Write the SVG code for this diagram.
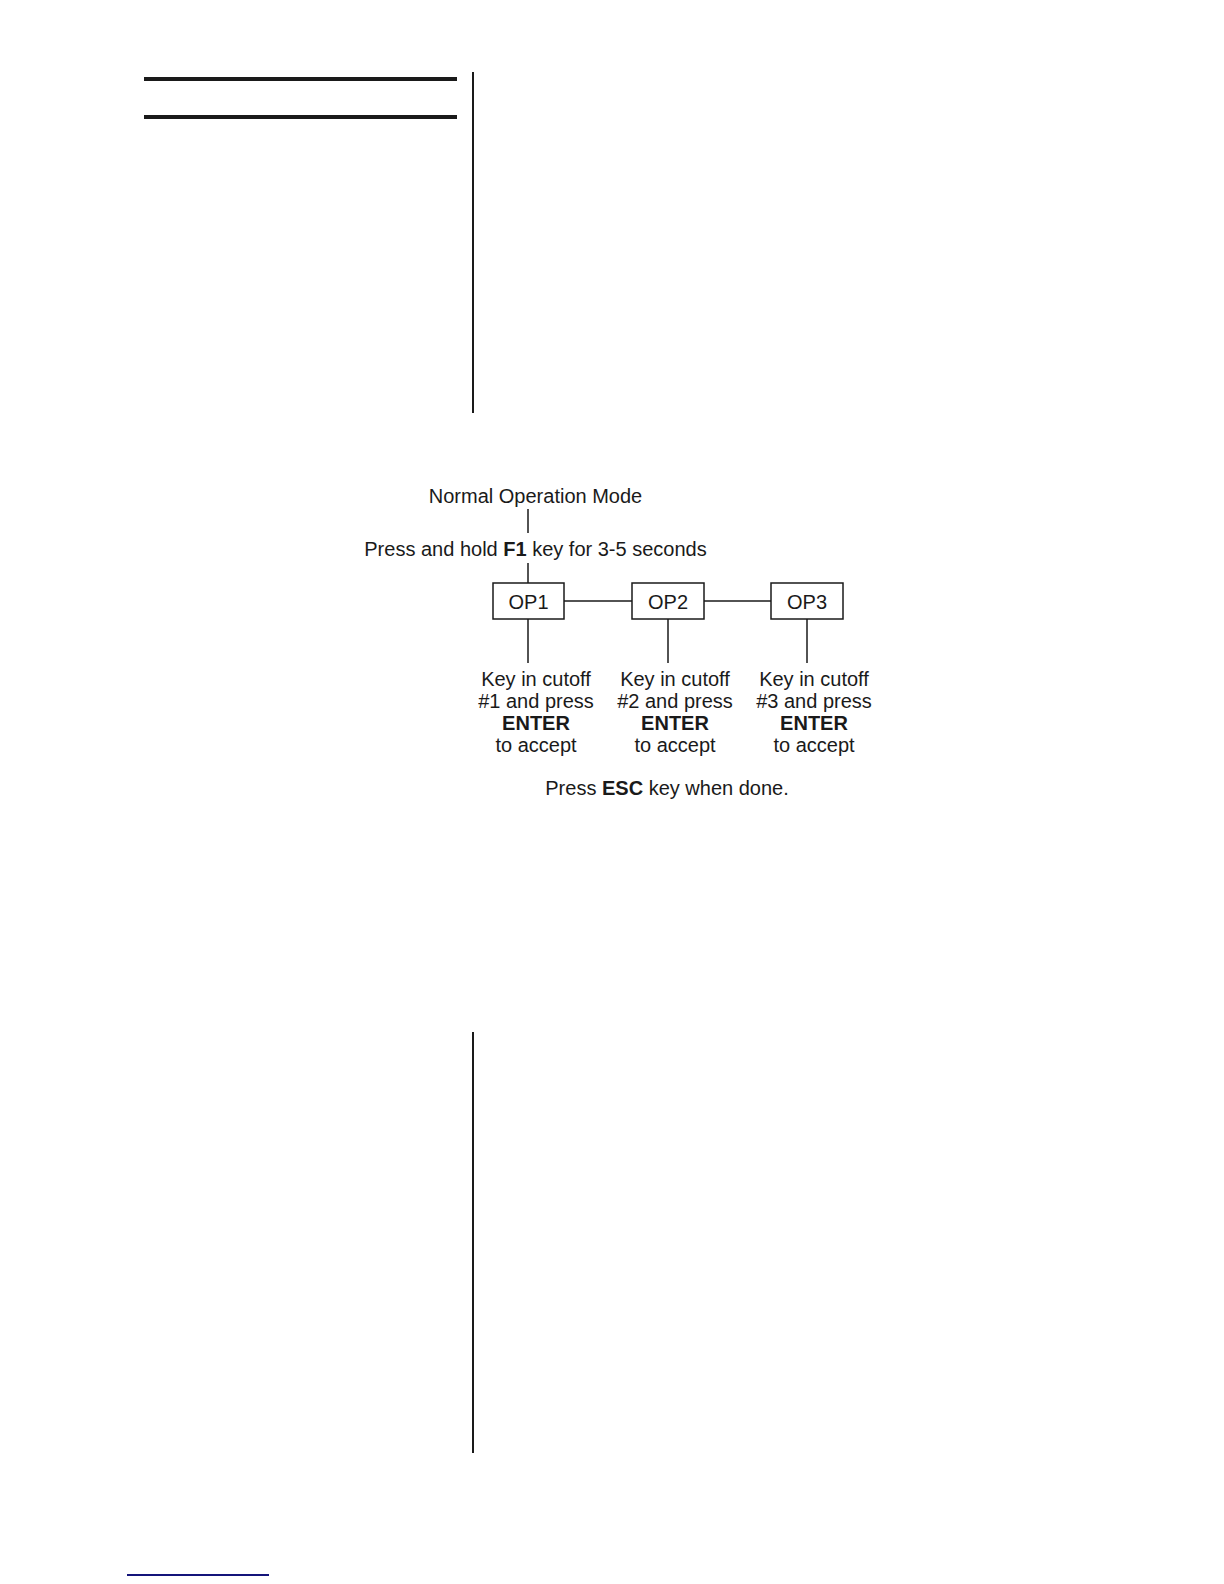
<svg xmlns="http://www.w3.org/2000/svg" width="1224" height="1584" viewBox="0 0 1224 1584">
<style>
text{font-family:"Liberation Sans",Arial,sans-serif;font-size:20px;fill:#1a1a1a;text-anchor:middle}
.b{font-weight:bold}
.box{fill:#fff;stroke:#1a1a1a;stroke-width:1.5}
.c{stroke:#1a1a1a;stroke-width:1.5;fill:none}
.rule{stroke:#1a1a1a;fill:none}
</style>
<rect width="1224" height="1584" fill="#fff"/>
<g id="page-rules">
<line class="rule" x1="144" y1="79" x2="457" y2="79" stroke-width="4"/>
<line class="rule" x1="144" y1="117" x2="457" y2="117" stroke-width="4"/>
<line class="rule" x1="473" y1="72" x2="473" y2="413" stroke-width="2"/>
<line class="rule" x1="473" y1="1032" x2="473" y2="1453" stroke-width="2"/>
<line x1="127" y1="1575" x2="269" y2="1575" stroke="#14147a" stroke-width="2"/>
</g>
<g id="connectors">
<line class="c" x1="528" y1="509" x2="528" y2="533"/>
<line class="c" x1="528" y1="563" x2="528" y2="583"/>
<line class="c" x1="564" y1="601" x2="632" y2="601"/>
<line class="c" x1="704" y1="601" x2="771" y2="601"/>
<line class="c" x1="528" y1="619" x2="528" y2="663"/>
<line class="c" x1="668" y1="619" x2="668" y2="663" stroke-width="2"/>
<line class="c" x1="807" y1="619" x2="807" y2="663" stroke-width="2"/>
</g>
<g id="normal-mode"><text x="535.5" y="503">Normal Operation Mode</text></g>
<g id="press-f1"><text x="535.5" y="556">Press and hold <tspan class="b">F1</tspan> key for 3-5 seconds</text></g>
<g id="op1"><rect class="box" x="493" y="583" width="71" height="36"/><text x="528.5" y="609">OP1</text></g>
<g id="op2"><rect class="box" x="632" y="583" width="72" height="36"/><text x="668" y="609">OP2</text></g>
<g id="op3"><rect class="box" x="771" y="583" width="72" height="36"/><text x="807" y="609">OP3</text></g>
<g id="step1"><text x="536" y="686">Key in cutoff</text><text x="536" y="708">#1 and press</text><text class="b" x="536" y="730">ENTER</text><text x="536" y="752">to accept</text></g>
<g id="step2"><text x="675" y="686">Key in cutoff</text><text x="675" y="708">#2 and press</text><text class="b" x="675" y="730">ENTER</text><text x="675" y="752">to accept</text></g>
<g id="step3"><text x="814" y="686">Key in cutoff</text><text x="814" y="708">#3 and press</text><text class="b" x="814" y="730">ENTER</text><text x="814" y="752">to accept</text></g>
<g id="press-esc"><text x="667" y="795">Press <tspan class="b">ESC</tspan> key when done.</text></g>
</svg>
